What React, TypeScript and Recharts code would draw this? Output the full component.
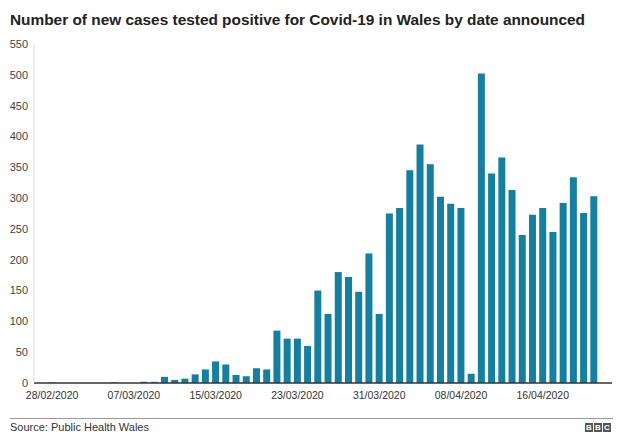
import { BarChart, Bar, XAxis, YAxis } from 'recharts'

const DATES = [
  '28/02/2020', '29/02/2020', '01/03/2020', '02/03/2020', '03/03/2020', '04/03/2020',
  '05/03/2020', '06/03/2020', '07/03/2020', '08/03/2020', '09/03/2020', '10/03/2020',
  '11/03/2020', '12/03/2020', '13/03/2020', '14/03/2020', '15/03/2020', '16/03/2020',
  '17/03/2020', '18/03/2020', '19/03/2020', '20/03/2020', '21/03/2020', '22/03/2020',
  '23/03/2020', '24/03/2020', '25/03/2020', '26/03/2020', '27/03/2020', '28/03/2020',
  '29/03/2020', '30/03/2020', '31/03/2020', '01/04/2020', '02/04/2020', '03/04/2020',
  '04/04/2020', '05/04/2020', '06/04/2020', '07/04/2020', '08/04/2020', '09/04/2020',
  '10/04/2020', '11/04/2020', '12/04/2020', '13/04/2020', '14/04/2020', '15/04/2020',
  '16/04/2020', '17/04/2020', '18/04/2020', '19/04/2020', '20/04/2020', '21/04/2020',
]

const CASES = [
  1, 0, 0, 0, 0, 0,
  1, 0, 0, 2, 2, 10,
  5, 7, 14, 22, 35, 30,
  13, 11, 24, 22, 85, 72,
  72, 60, 150, 112, 180, 172,
  148, 210, 112, 275, 284, 345,
  387, 355, 302, 291, 284, 15,
  502, 340, 366, 313, 240, 273,
  284, 245, 292, 334, 276, 303,
]

const Y_TICKS = [0, 50, 100, 150, 200, 250, 300, 350, 400, 450, 500, 550]

const data = DATES.map((date, i) => ({ date, cases: CASES[i] }))

function BbcLogo() {
  return (
    <div style={{ position: 'absolute', left: 585, top: 423, display: 'flex', gap: 1 }}>
      {['B', 'B', 'C'].map((l, i) => (
        <div key={i} style={{
          width: 8, height: 9, background: '#555', color: '#fff',
          fontFamily: 'Arial, "Liberation Sans", sans-serif', fontWeight: 700,
          fontSize: 8, lineHeight: '9px', textAlign: 'center',
        }}>{l}</div>
      ))}
    </div>
  )
}

export default function App() {
  return (
    <div style={{
      position: 'absolute', left: 0, top: 0, width: 624, height: 446,
      background: '#fff', fontFamily: 'Arial, "Liberation Sans", sans-serif',
    }}>
      <div style={{
        position: 'absolute', left: 10, top: 11, fontSize: 15.4, fontWeight: 700,
        color: '#222', whiteSpace: 'nowrap',
      }}>
        Number of new cases tested positive for Covid-19 in Wales by date announced
      </div>
      <div style={{ position: 'absolute', left: 0, top: 0 }}>
        <BarChart width={624} height={412} data={data}
          margin={{ top: 44, right: 12, left: 0, bottom: 0 }}
          barCategoryGap="15%">
          <XAxis dataKey="date" interval={7} tickSize={0} tickMargin={9}
            padding={{ left: 13, right: 13 }} height={29}
            axisLine={{ stroke: '#333', strokeWidth: 1.6 }}
            tick={{ fontSize: 10.5, fill: '#333' }} />
          <YAxis domain={[0, 550]} ticks={Y_TICKS} width={34} tickSize={0}
            tickMargin={6} interval={0}
            axisLine={{ stroke: '#ddd' }}
            tick={{ fontSize: 11, fill: '#444' }} />
          <Bar dataKey="cases" fill="#1380A1" isAnimationActive={false} />
        </BarChart>
      </div>
      <div style={{
        position: 'absolute', left: 10, top: 418, width: 603, height: 1, background: '#999',
      }} />
      <div style={{
        position: 'absolute', left: 10, top: 421, fontSize: 11, color: '#333',
      }}>
        Source: Public Health Wales
      </div>
      <BbcLogo />
    </div>
  )
}
